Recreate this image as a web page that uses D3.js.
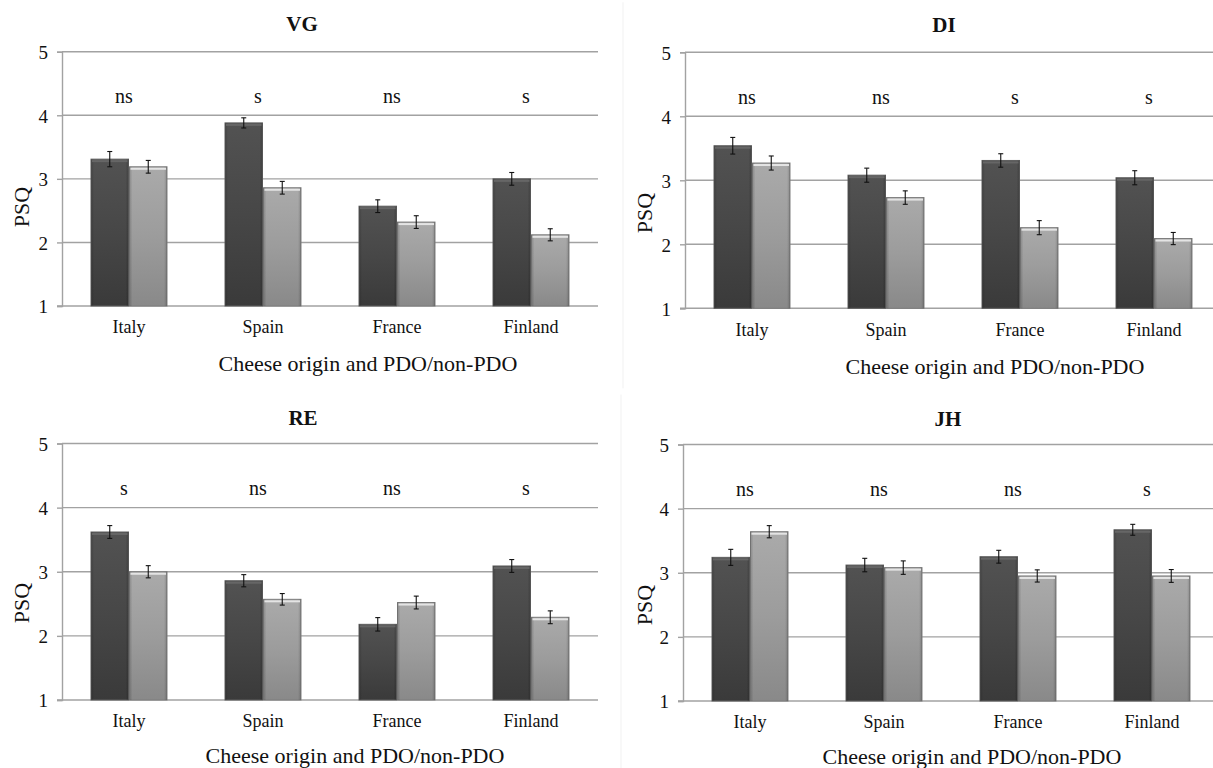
<!DOCTYPE html>
<html>
<head>
<meta charset="utf-8">
<script src="https://cdn.jsdelivr.net/npm/d3@7"></script>
<style>
  html, body { margin: 0; padding: 0; background: #ffffff; }
  svg { display: block; }
  svg text { font-family: "Liberation Serif", "Times New Roman", Tinos, "DejaVu Serif", "Noto Serif", serif !important; fill: #111; }
</style>
</head>
<body>
<svg id="chart" width="1213" height="768"></svg>
<script>
// Categories and series
const countries = ["Italy", "Spain", "France", "Finland"];
const seriesNames = ["PDO", "non-PDO"];
const yTicks = [1, 2, 3, 4, 5];
const xAxisTitle = "Cheese origin and PDO/non-PDO";
const yAxisTitle = "PSQ";

// VG
const vgPDO = [3.31, 3.88, 2.57, 3.00];
const vgNonPDO = [3.19, 2.86, 2.32, 2.12];
const vgErrPDO = [0.12, 0.08, 0.10, 0.10];
const vgErrNonPDO = [0.10, 0.10, 0.10, 0.095];
const vgSig = ["ns", "s", "ns", "s"];

// DI
const diPDO = [3.54, 3.08, 3.31, 3.04];
const diNonPDO = [3.27, 2.73, 2.26, 2.09];
const diErrPDO = [0.13, 0.11, 0.105, 0.11];
const diErrNonPDO = [0.11, 0.105, 0.11, 0.095];
const diSig = ["ns", "ns", "s", "s"];

// RE
const rePDO = [3.62, 2.86, 2.18, 3.09];
const reNonPDO = [3.00, 2.57, 2.52, 2.29];
const reErrPDO = [0.10, 0.095, 0.105, 0.10];
const reErrNonPDO = [0.095, 0.09, 0.10, 0.10];
const reSig = ["s", "ns", "ns", "s"];

// JH
const jhPDO = [3.24, 3.12, 3.25, 3.67];
const jhNonPDO = [3.64, 3.08, 2.95, 2.95];
const jhErrPDO = [0.125, 0.105, 0.10, 0.085];
const jhErrNonPDO = [0.095, 0.105, 0.095, 0.10];
const jhSig = ["ns", "ns", "ns", "s"];

const sigLevel = 4.2; // height at which the significance notes sit
const serif = "'Liberation Serif', 'Times New Roman', Tinos, 'DejaVu Serif', 'Noto Serif', serif";

// Panel placement on the page
const panels = [
  { title: "VG", pdo: vgPDO, non: vgNonPDO, ePdo: vgErrPDO, eNon: vgErrNonPDO, sig: vgSig,
    ax: 62, step: 134, yTop: 51.7, yBot: 306, titleX: 302, titleY: 30.5,
    catY: 333, xtX: 368, xtY: 371, psqX: 22, psqY: 207, frame: false },
  { title: "DI", pdo: diPDO, non: diNonPDO, ePdo: diErrPDO, eNon: diErrNonPDO, sig: diSig,
    ax: 685, step: 134, yTop: 52.3, yBot: 308.3, titleX: 944, titleY: 32,
    catY: 336, xtX: 995, xtY: 374, psqX: 645, psqY: 213, frame: true },
  { title: "RE", pdo: rePDO, non: reNonPDO, ePdo: reErrPDO, eNon: reErrNonPDO, sig: reSig,
    ax: 62, step: 134, yTop: 443.5, yBot: 700, titleX: 303, titleY: 425,
    catY: 727, xtX: 355, xtY: 763, psqX: 22, psqY: 603, frame: false },
  { title: "JH", pdo: jhPDO, non: jhNonPDO, ePdo: jhErrPDO, eNon: jhErrNonPDO, sig: jhSig,
    ax: 683, step: 134, yTop: 444.5, yBot: 701, titleX: 948, titleY: 426,
    catY: 728, xtX: 972, xtY: 764, psqX: 645, psqY: 605, frame: true }
];

const svg = d3.select("#chart").attr("font-family", serif);

// Shaded fills for the two bar series
const defs = svg.append("defs");
function vGrad(id, stops) {
  const g = defs.append("linearGradient").attr("id", id)
    .attr("x1", 0).attr("y1", 0).attr("x2", 0).attr("y2", 1);
  stops.forEach(s => g.append("stop").attr("offset", s[0]).attr("stop-color", s[1]));
}
vGrad("gDark", [[0, "#525252"], [0.5, "#474747"], [1, "#3a3a3a"]]);
vGrad("gLight", [[0, "#aaaaaa"], [0.5, "#9c9c9c"], [1, "#898989"]]);
function hGrad(id, stops) {
  const g = defs.append("linearGradient").attr("id", id)
    .attr("x1", 0).attr("y1", 0).attr("x2", 1).attr("y2", 0);
  stops.forEach(s => g.append("stop").attr("offset", s[0]).attr("stop-color", s[1]).attr("stop-opacity", s[2]));
}
hGrad("gEdge", [[0, "#000", 0.18], [0.08, "#000", 0], [0.92, "#000", 0], [1, "#000", 0.18]]);

const fills = { "PDO": "url(#gDark)", "non-PDO": "url(#gLight)" };
const strokes = { "PDO": "#5e5e5e", "non-PDO": "#7c7c7c" };
const highlights = { "PDO": "#666666", "non-PDO": "#e4e4e4" };

panels.forEach(p => {
  const g = svg.append("g");
  const x0 = p.ax, x1 = p.ax + p.step * countries.length;

  const x = d3.scaleBand().domain(countries).range([x0, x1])
    .paddingInner(0.4254).paddingOuter(0.2127);
  const xs = d3.scaleBand().domain(seriesNames).range([0, x.bandwidth()]).padding(0);
  const y = d3.scaleLinear().domain([1, 5]).range([p.yBot, p.yTop]);

  if (p.frame) {
    g.append("line").attr("x1", p.ax - 62).attr("x2", p.ax - 62)
      .attr("y1", p.yTop - 50).attr("y2", p.yBot + 80)
      .attr("stroke", "#f1f1f1").attr("stroke-width", 1);
  }

  // Horizontal gridlines
  g.append("g").selectAll("line").data(yTicks.slice(1)).join("line")
    .attr("x1", x0).attr("x2", Math.min(x1, 1213))
    .attr("y1", d => y(d)).attr("y2", d => y(d))
    .attr("stroke", "#a2a2a2").attr("stroke-width", 1.4);

  // Value axis
  const yAxis = d3.axisLeft(y).tickValues(yTicks).tickSize(5).tickPadding(9).tickFormat(d3.format("d"));
  const ya = g.append("g").attr("transform", `translate(${x0},0)`).call(yAxis)
    .attr("font-family", serif);
  ya.select(".domain").attr("stroke", "#a2a2a2").attr("stroke-width", 1.4);
  ya.selectAll(".tick line").attr("stroke", "#a2a2a2").attr("stroke-width", 1.4);
  ya.selectAll(".tick text").attr("font-size", 19)
    .attr("fill", "#111").attr("dy", "0.36em");

  // Category baseline
  g.append("line").attr("x1", x0 - 5).attr("x2", Math.min(x1, 1213))
    .attr("y1", y(1)).attr("y2", y(1)).attr("stroke", "#a2a2a2").attr("stroke-width", 1.4);

  // Bars
  const rows = [];
  countries.forEach((c, i) => {
    rows.push({ c, s: "PDO", v: p.pdo[i], e: p.ePdo[i] });
    rows.push({ c, s: "non-PDO", v: p.non[i], e: p.eNon[i] });
  });
  const bars = g.append("g").selectAll("g").data(rows).join("g");
  bars.append("rect")
    .attr("x", d => x(d.c) + xs(d.s) + 0.5)
    .attr("y", d => y(d.v))
    .attr("width", xs.bandwidth() - 1)
    .attr("height", d => y(1) - y(d.v))
    .attr("fill", d => fills[d.s])
    .attr("stroke", d => strokes[d.s]).attr("stroke-width", 1);
  bars.append("rect")
    .attr("x", d => x(d.c) + xs(d.s) + 0.5)
    .attr("y", d => y(d.v))
    .attr("width", xs.bandwidth() - 1)
    .attr("height", d => y(1) - y(d.v))
    .attr("fill", "url(#gEdge)");
  bars.append("rect")
    .attr("x", d => x(d.c) + xs(d.s) + 1.5)
    .attr("y", d => y(d.v) + 1)
    .attr("width", xs.bandwidth() - 3)
    .attr("height", 2)
    .attr("fill", d => highlights[d.s]);

  // Error bars
  const eb = g.append("g").attr("stroke", "#111").attr("stroke-width", 1.1);
  const cx = d => x(d.c) + xs(d.s) + xs.bandwidth() / 2;
  eb.selectAll("line.v").data(rows).join("line").attr("class", "v")
    .attr("x1", cx).attr("x2", cx)
    .attr("y1", d => y(d.v + d.e)).attr("y2", d => y(d.v - d.e));
  eb.selectAll("line.t").data(rows).join("line").attr("class", "t")
    .attr("x1", d => cx(d) - 2.5).attr("x2", d => cx(d) + 2.5)
    .attr("y1", d => y(d.v + d.e)).attr("y2", d => y(d.v + d.e));
  eb.selectAll("line.b").data(rows).join("line").attr("class", "b")
    .attr("x1", d => cx(d) - 2.5).attr("x2", d => cx(d) + 2.5)
    .attr("y1", d => y(d.v - d.e)).attr("y2", d => y(d.v - d.e));

  // Significance notes
  g.append("g").selectAll("text").data(countries).join("text")
    .attr("x", c => x(c) + x.bandwidth() / 2 - 5)
    .attr("y", y(sigLevel))
    .attr("text-anchor", "middle").attr("font-size", 20)
    .text((c, i) => p.sig[i]);

  // Category labels
  g.append("g").selectAll("text").data(countries).join("text")
    .attr("x", c => x(c) + x.bandwidth() / 2)
    .attr("y", p.catY)
    .attr("text-anchor", "middle").attr("font-size", 18)
    .text(c => c);

  // Titles
  g.append("text").attr("x", p.titleX).attr("y", p.titleY)
    .attr("text-anchor", "middle").attr("font-size", 21).attr("font-weight", "bold")
    .text(p.title);
  g.append("text").attr("x", p.xtX).attr("y", p.xtY)
    .attr("text-anchor", "middle").attr("font-size", 22)
    .text(xAxisTitle);
  g.append("text")
    .attr("transform", `translate(${p.psqX + 7},${p.psqY}) rotate(-90)`)
    .attr("text-anchor", "middle").attr("font-size", 22)
    .text(yAxisTitle);
});
</script>
</body>
</html>
